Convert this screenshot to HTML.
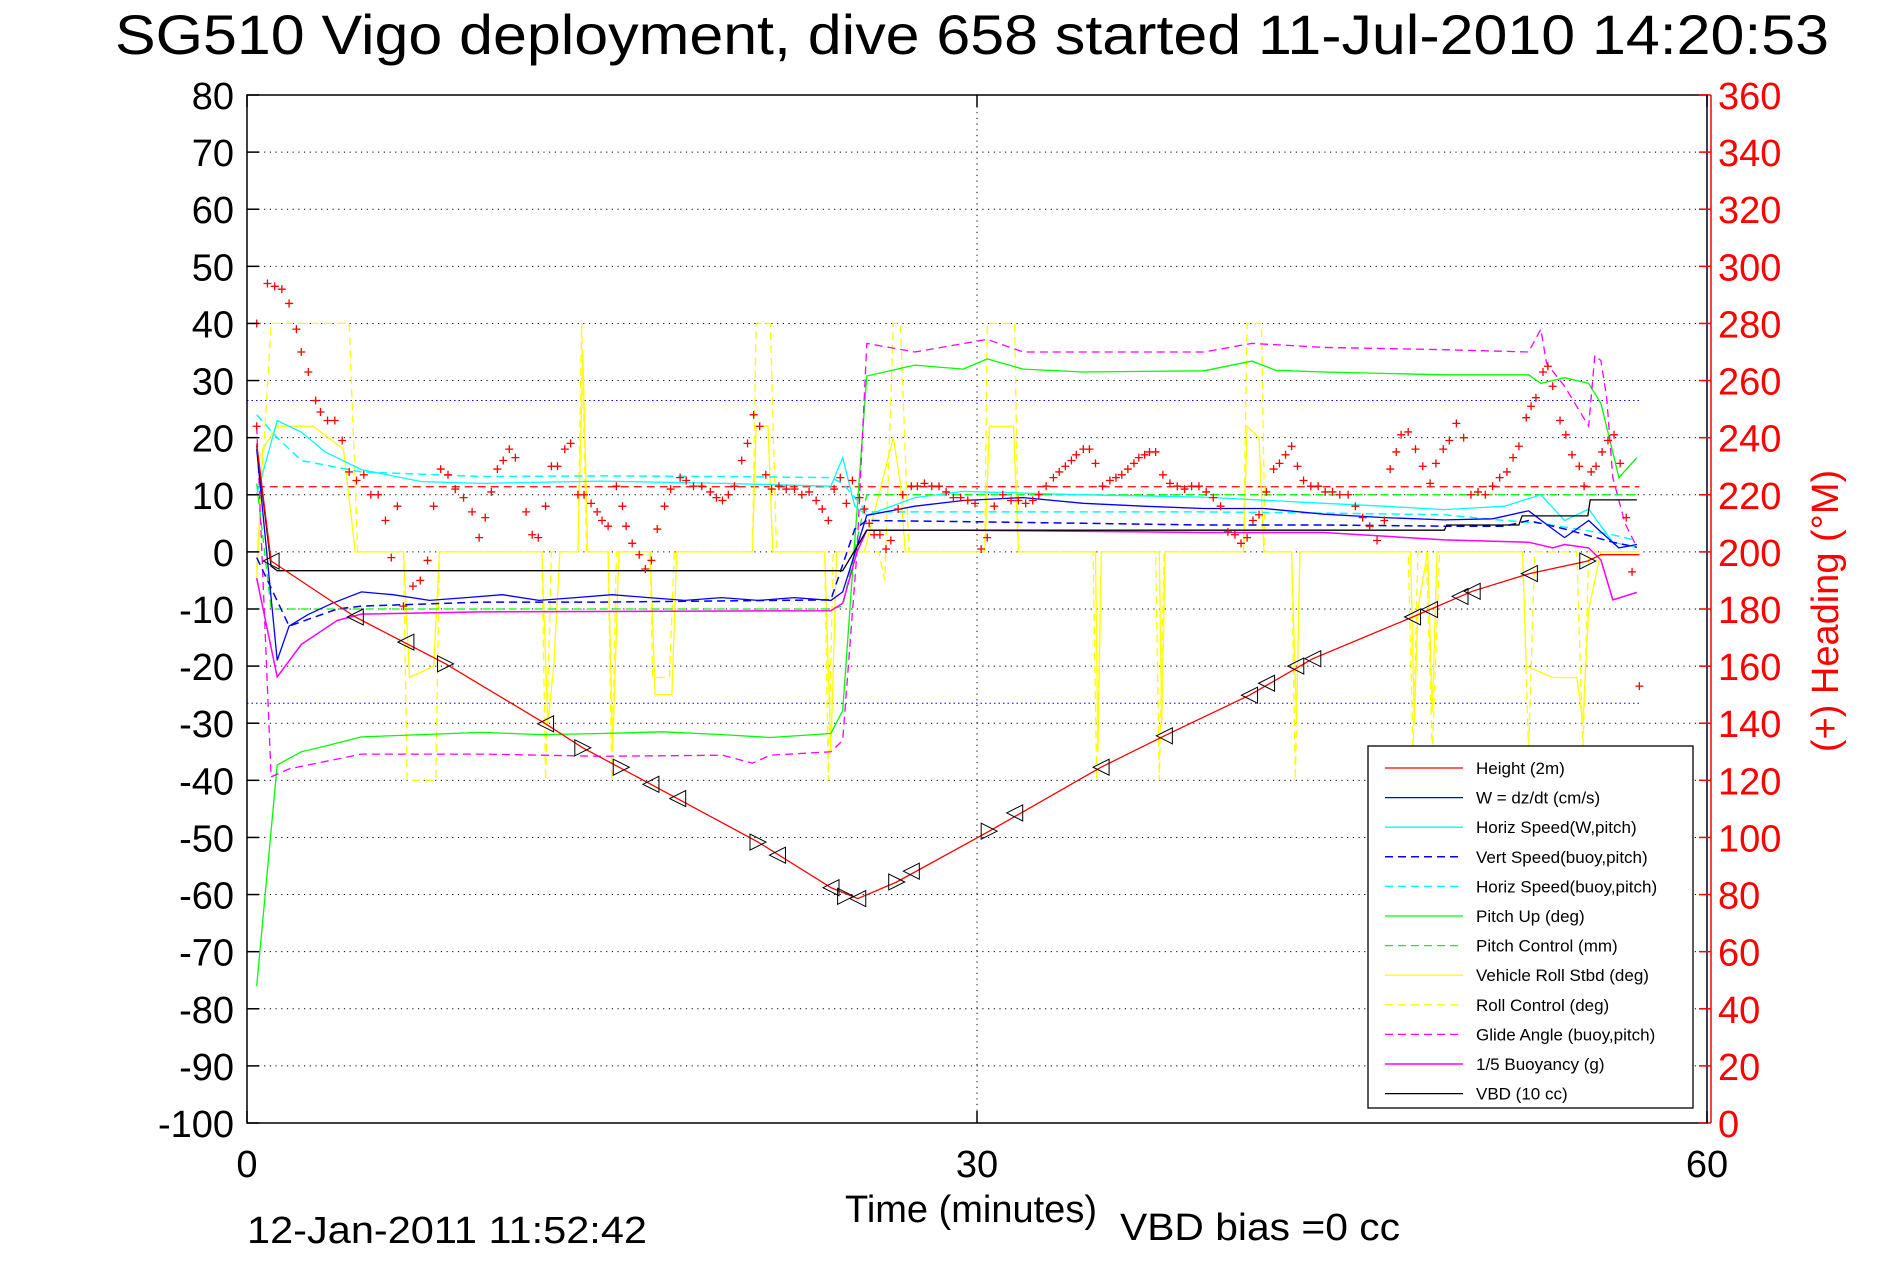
<!DOCTYPE html>
<html><head><meta charset="utf-8">
<style>
html,body{margin:0;padding:0;background:#fff;}
svg{display:block;font-family:"Liberation Sans",Arial,sans-serif;}
</style></head>
<body>
<svg id="chart" width="1891" height="1262" viewBox="0 0 1891 1262" xmlns="http://www.w3.org/2000/svg">
<rect x="0" y="0" width="1891" height="1262" fill="#fff"/>
<text x="972" y="54" font-size="56" text-anchor="middle" textLength="1714" lengthAdjust="spacingAndGlyphs">SG510 Vigo deployment, dive 658 started 11-Jul-2010 14:20:53</text>
<defs><clipPath id="plotclip"><rect x="247" y="95" width="1460" height="1028"/></clipPath></defs>
<g id="grid"></g>
<g id="series" clip-path="url(#plotclip)"></g>
<rect x="247" y="95" width="1460" height="1028" fill="none" stroke="#000" stroke-width="1.5"/>
<line x1="1711" y1="95" x2="1711" y2="1123" stroke="#f00" stroke-width="1.5"/>
<g id="axes"></g>
<text x="971" y="1222" font-size="38" text-anchor="middle">Time (minutes)</text>
<text x="1120" y="1240" font-size="38" textLength="280" lengthAdjust="spacingAndGlyphs">VBD bias =0 cc</text>
<text x="247" y="1243" font-size="38" textLength="400" lengthAdjust="spacingAndGlyphs">12-Jan-2011 11:52:42</text>
<text x="0" y="0" font-size="38" fill="#f00" text-anchor="middle" transform="translate(1838,611) rotate(-90)">(+) Heading (°M)</text>
<g id="legend"></g>
</svg>
<script>
// ---- data ----
const xTicks = [0, 30, 60];
const yTicks = [80,70,60,50,40,30,20,10,0,-10,-20,-30,-40,-50,-60,-70,-80,-90,-100];
const hTicks = [360,340,320,300,280,260,240,220,200,180,160,140,120,100,80,60,40,20,0];

const heightT = [0.4,0.99,4.45,8.16,12.27,13.8,16.6,21.0,24.0,25.1,26.7,30.5,35.1,37.7,41.2,43.8,47.9,50.35,52.7,55.1,55.64,57.22];
const heightV = [19,-1.6,-11.4,-19.6,-30.1,-34.3,-40.7,-50.8,-58.8,-60.7,-57.8,-48.9,-37.7,-32.2,-25.1,-18.7,-11.4,-6.9,-3.8,-1.6,-0.5,-0.5];

const wT = [0.4,1.24,1.73,2.5,3.5,4.7,6,7.5,9,10.5,12,13.5,15,16.5,18,19.5,21,22.5,24,24.48,25.47,27.45,29.43,31.9,34.37,36.84,39.32,41.79,44.26,46.74,49.21,51.19,52.67,53.66,54.15,55.14,55.64,56.38,57.12];
const wV = [18,-19,-13,-11,-9,-7,-7.5,-8.5,-8,-7.5,-8.5,-8,-7.5,-8,-8.5,-8,-8.5,-8,-8.5,-7,6.4,8,9,9.5,8.5,8,7.6,7.6,6.6,6,5.6,5.8,7.2,4,2.5,5.5,3.5,0.7,1.3];

const hsWT = [0.4,1.24,2.23,3.21,4.7,7.17,9.64,14.59,19.54,23.99,24.48,24.98,25.47,27.45,29.43,34.37,39.32,44.26,46.74,49.21,51.68,53.17,54.15,55.14,56.13,57.12];
const hsWV = [10,23,21,17.5,14.4,12.3,12,12.4,12,11.5,16.5,8,6.4,9.5,10.6,10,9.6,8.5,8,7.4,8,10,5.5,7.5,1.7,0.8];

const vsBT = [0.4,1.73,3.71,4.7,9.64,14.59,23.99,24.98,25.47,29.43,34.37,39.32,44.26,49.21,51.68,52.67,54.15,56.13,57.12];
const vsBV = [-1,-13,-10,-9.5,-8.8,-8.8,-8.4,4,5.5,5.3,5,4.7,4.7,4.5,4.5,5.5,4,1.7,0.8];

const hsBT = [0.4,1.24,2.23,4.7,9.64,14.59,19.54,23.99,24.48,25.47,29.43,34.37,39.32,44.26,49.21,51.68,53.17,54.65,56.13,57.12];
const hsBV = [24,20,16,14,13.2,13.3,13.2,13,12,7,7,7,7,6.8,6.5,5.5,5,4,3,2];

const pitchT = [0.4,1.24,2.23,3.21,4.7,7.17,9.64,12.12,14.59,17.07,19.54,21.5,23.99,24.48,24.98,25.47,27.45,29.43,30.42,31.9,34.37,39.32,41.3,42.28,44.26,49.21,52.67,53.17,54.15,55.14,55.64,56.38,57.12];
const pitchV = [-76,-37.3,-35,-34,-32.4,-32,-31.6,-32,-31.8,-31.5,-32,-32.5,-31.8,-27.8,2,30.8,32.7,32,33.8,32,31.5,31.7,33.4,31.8,31.5,31,31,29.5,30.5,29.5,26,13,16.5];

const pcT = [0.4,0.99,23.99,24.48,25.47,57.12];
const pcV = [12,-10,-10,-9.5,10,10];

const rollT = [0.4,0.64,1.24,2.72,3.96,4.45,6.43,6.68,7.67,7.91,12.12,12.36,12.61,12.86,13.6,13.8,14.0,14.84,15.03,15.28,16.57,16.77,17.46,17.66,20.77,20.92,21.41,21.61,23.74,23.99,24.23,25.37,26.56,26.85,27.05,30.32,30.51,31.5,31.7,34.87,34.97,35.11,37.49,37.59,37.73,40.95,41.1,41.59,41.79,42.93,43.13,43.27,47.82,47.97,48.12,48.52,48.71,48.91,52.42,52.57,53.66,54.65,54.9,55.14,55.64,57.22];
const rollV = [-5,18,22,22,18,0,0,-22,-20,0,0,-30,-20,0,0,35,0,0,-35,0,0,-25,-25,0,0,22,22,0,0,-35,0,0,20,12,0,0,22,22,0,0,-35,0,0,-30,0,0,22,20,0,0,-30,0,0,-30,-10,0,-28,0,0,-20,-22,-22,-30,-10,0,0];

const rcT = [0.4,0.99,4.2,4.55,6.43,6.58,7.76,7.91,12.12,12.27,12.51,13.6,13.75,13.95,14.84,14.99,15.18,16.57,16.67,17.36,17.56,20.77,20.92,21.51,21.76,23.74,23.89,24.09,25.96,26.21,26.56,26.85,27.2,30.32,30.42,31.55,31.7,34.77,34.92,35.11,37.34,37.49,37.69,40.95,41.1,41.69,41.84,42.93,43.08,43.27,47.72,47.92,48.12,48.47,48.71,49.01,52.42,52.67,52.92,54.65,54.9,55.14,57.22];
const rcV = [-3,40,40,0,0,-40,-40,0,0,-40,0,0,40,0,0,-40,0,0,-22,-22,0,0,40,40,0,0,-40,0,0,-5,40,40,0,0,40,40,0,0,-40,0,0,-40,0,0,40,40,0,0,-40,0,0,-35,0,0,-35,0,0,-35,0,0,-35,0,0];

const glideT = [0.4,0.99,1.73,4.7,9.64,14.59,19.54,20.77,21.51,23.99,24.48,25.07,25.47,27.45,30.42,31.9,34.37,39.32,41.3,44.26,49.21,52.67,53.17,53.41,54.15,55.14,55.39,55.64,55.88,56.13,56.63,57.12];
const glideV = [22,-39.4,-38,-35.4,-35.4,-35.8,-35.6,-37,-35.6,-35,-33,0,36.5,35,37.2,35,35,35,36.5,35.8,35.4,35,39,33,29,22,34.4,33.5,27,13,5,0.8];

const buoyT = [0.4,1.24,2.23,3.71,4.7,9.64,23.99,24.48,25.07,25.47,29.43,39.32,44.26,49.21,52.67,53.66,54.15,55.14,55.64,56.13,57.12];
const buoyV = [-4.6,-21.9,-16.2,-12,-10.9,-10.5,-10.3,-9,0,3.8,3.8,3.4,3.4,2.1,1.7,0.7,1.3,0.7,-1.4,-8.4,-7.1];

const vbdT = [0.4,0.99,1.24,24.48,25.47,49.21,49.3,52.27,52.4,55.1,55.2,57.12];
const vbdV = [18.6,-2.5,-3.3,-3.3,3.8,3.8,4.7,4.7,6.3,6.3,9.1,9.1];

const refLevels = [26.5, -26.5];
const headingMean = 222.8;

const markT = [0.99,4.45,6.53,8.16,12.27,13.8,15.38,16.6,17.7,21.0,21.8,24.0,24.6,25.1,26.7,27.3,30.5,31.55,35.1,37.7,41.2,41.9,43.1,43.8,47.9,48.6,49.85,50.35,52.7,55.1];
const markV = [-1.6,-11.4,-15.8,-19.6,-30.1,-34.3,-37.7,-40.7,-43.2,-50.8,-53.1,-58.8,-60.3,-60.7,-57.8,-55.9,-48.9,-45.7,-37.7,-32.2,-25.1,-23.0,-20.0,-18.7,-11.4,-10.1,-7.8,-6.9,-3.8,-1.6];
const markDir = ["L","L","L","R","L","R","R","L","L","R","L","L","R","L","R","L","R","L","L","L","L","L","L","L","L","L","L","L","L","R"];

const headingT = [0.40,0.40,0.84,1.14,1.43,1.73,2.03,2.23,2.52,2.82,3.02,3.31,3.61,3.91,4.20,4.50,4.80,5.09,5.39,5.69,5.93,6.18,6.43,6.82,7.12,7.42,7.67,7.96,8.26,8.56,8.90,9.25,9.54,9.79,10.04,10.29,10.53,10.78,11.03,11.47,11.72,11.97,12.27,12.51,12.76,13.06,13.30,13.60,13.85,14.14,14.39,14.59,14.84,15.18,15.43,15.58,15.83,16.12,16.37,16.62,16.86,17.16,17.41,17.80,18.05,18.35,18.69,19.04,19.29,19.54,19.78,20.03,20.33,20.57,20.82,21.07,21.32,21.56,21.86,22.16,22.50,22.80,23.10,23.39,23.64,23.89,24.13,24.38,24.63,24.88,25.17,25.37,25.57,25.77,26.01,26.26,26.46,26.76,26.95,27.30,27.55,27.84,28.14,28.44,28.73,29.03,29.33,29.62,29.92,30.17,30.42,30.71,31.06,31.40,31.70,32.00,32.29,32.54,32.84,33.14,33.38,33.63,33.88,34.08,34.37,34.62,34.87,35.16,35.46,35.71,35.95,36.20,36.45,36.65,36.89,37.09,37.34,37.64,37.93,38.23,38.53,38.82,39.12,39.42,39.71,40.01,40.31,40.60,40.85,41.10,41.34,41.59,41.89,42.19,42.43,42.68,42.93,43.17,43.42,43.72,44.02,44.31,44.61,44.91,45.25,45.55,45.85,46.14,46.44,46.74,46.98,47.23,47.43,47.72,48.02,48.32,48.62,48.86,49.16,49.41,49.70,50.00,50.30,50.59,50.89,51.19,51.48,51.78,52.03,52.27,52.57,52.77,52.97,53.26,53.46,53.66,53.96,54.20,54.45,54.75,54.95,55.24,55.44,55.69,55.93,56.18,56.43,56.68,56.92,57.22];
const headingH = [280,244,294,293,292,287,278,270,263,253,249,246,246,239,228,225,227,220,220,211,198,216,181,188,190,197,216,229,227,222,219,214,205,212,221,229,232,236,233,214,206,205,216,230,230,236,238,220,220,217,214,211,209,223,216,209,203,199,194,197,208,216,222,226,225,223,223,221,219,218,220,223,232,238,248,244,227,222,223,222,222,220,221,218,215,211,222,226,217,225,219,215,210,206,206,201,204,215,220,223,223,224,223,223,221,219,219,218,217,201,205,216,220,218,218,217,218,220,223,226,228,230,232,234,236,236,231,223,225,226,227,229,231,233,234,235,235,227,224,223,222,223,223,221,219,216,207,206,203,205,211,213,221,229,231,234,237,230,225,223,223,221,221,220,220,216,212,209,204,211,229,235,241,242,236,230,224,231,236,239,245,240,220,221,220,223,226,228,233,237,247,251,254,263,265,258,246,241,234,230,223,228,230,235,239,241,231,212,193,153];

// ---- scales ----
const PL = 247, PR = 1707, PT = 95, PB = 1123;
function X(t){ return PL + (t - 0) / 60 * (PR - PL); }
function Y(v){ return PT + (80 - v) / 180 * (PB - PT); }
function YH(h){ return PT + (360 - h) / 360 * (PB - PT); }

const NS = "http://www.w3.org/2000/svg";
function mk(tag, attrs, parent){
  const el = document.createElementNS(NS, tag);
  for (const k in attrs) el.setAttribute(k, attrs[k]);
  parent.appendChild(el);
  return el;
}
const grid = document.getElementById('grid');
const axes = document.getElementById('axes');
const series = document.getElementById('series');
const legend = document.getElementById('legend');

// grid & ticks
yTicks.forEach(v => {
  const y = Y(v);
  if (v !== 80 && v !== -100) {
    const g = mk('line', {x1:PL, x2:PR, y1:y, y2:y, stroke:'#000', 'stroke-width':1, 'stroke-dasharray':'1.2,4.5'}, grid);
    
    
  }
  const tk = mk('line', {x1:PL, x2:PL+12, y1:y, y2:y, stroke:'#000', 'stroke-width':1.5}, axes);
  
  
  const lb = mk('text', {x:234, y:y+14, 'font-size':38, 'text-anchor':'end'}, axes);
  lb.textContent = v;
  
  
});
hTicks.forEach(h => {
  const y = YH(h);
  const tk = mk('line', {x1:1699, x2:1711, y1:y, y2:y, stroke:'#f00', 'stroke-width':1.5}, axes);
  
  
  const lb = mk('text', {x:1718, y:y+14, 'font-size':38, fill:'#f00'}, axes);
  lb.textContent = h;
  
  
});
xTicks.forEach(t => {
  const x = X(t);
  if (t !== 0 && t !== 60) {
    const g = mk('line', {x1:x, x2:x, y1:PT, y2:PB, stroke:'#000', 'stroke-width':1, 'stroke-dasharray':'1.2,4.5'}, grid);
    
    
  }
  const tk1 = mk('line', {x1:x, x2:x, y1:PB, y2:PB-12, stroke:'#000', 'stroke-width':1.5}, axes);
  
  
  const tk2 = mk('line', {x1:x, x2:x, y1:PT, y2:PT+12, stroke:'#000', 'stroke-width':1.5}, axes);
  
  
  const lb = mk('text', {x:x, y:1177, 'font-size':38, 'text-anchor':'middle'}, axes);
  lb.textContent = t;
  
  
});

// reference lines
refLevels.forEach(v => {
  const l = mk('line', {x1:X(0), x2:X(57.22), y1:Y(v), y2:Y(v), stroke:'#00f', 'stroke-width':1, 'stroke-dasharray':'1.5,3'}, series);
  
  
});
const hm = mk('line', {x1:X(0.4), x2:X(57.22), y1:YH(headingMean), y2:YH(headingMean), stroke:'#f00', 'stroke-width':1.2, 'stroke-dasharray':'8,5'}, series);



function pathOf(ts, vs){
  return ts.map((t,i) => (i ? 'L' : 'M') + X(t).toFixed(1) + ',' + Y(vs[i]).toFixed(1)).join(' ');
}
const defs = [
  {name:'roll-control-line', t:rcT, v:rcV, c:'#ffff00', d:'8,5', w:1.3, label:'Roll Control (deg)'},
  {name:'vehicle-roll-line', t:rollT, v:rollV, c:'#ffff00', d:'', w:1.3, label:'Vehicle Roll Stbd (deg)'},
  {name:'pitch-control-line', t:pcT, v:pcV, c:'#00ff00', d:'8,5', w:1.3, label:'Pitch Control (mm)'},
  {name:'pitch-up-line', t:pitchT, v:pitchV, c:'#00ff00', d:'', w:1.3, label:'Pitch Up (deg)'},
  {name:'glide-angle-line', t:glideT, v:glideV, c:'#ff00ff', d:'8,5', w:1.3, label:'Glide Angle (buoy,pitch)'},
  {name:'buoyancy-line', t:buoyT, v:buoyV, c:'#ff00ff', d:'', w:1.5, label:'1/5 Buoyancy (g)'},
  {name:'horiz-speed-buoy-line', t:hsBT, v:hsBV, c:'#00ffff', d:'8,5', w:1.5, label:'Horiz Speed(buoy,pitch)'},
  {name:'horiz-speed-w-line', t:hsWT, v:hsWV, c:'#00ffff', d:'', w:1.3, label:'Horiz Speed(W,pitch)'},
  {name:'vert-speed-buoy-line', t:vsBT, v:vsBV, c:'#0000ff', d:'8,5', w:1.5, label:'Vert Speed(buoy,pitch)'},
  {name:'w-line', t:wT, v:wV, c:'#0000ff', d:'', w:1.3, label:'W = dz/dt (cm/s)'},
  {name:'vbd-line', t:vbdT, v:vbdV, c:'#000000', d:'', w:1.3, label:'VBD (10 cc)'},
  {name:'height-line', t:heightT, v:heightV, c:'#ff0000', d:'', w:1.3, label:'Height (2m)'}
];
defs.forEach(s => {
  const p = mk('path', {d:pathOf(s.t, s.v), fill:'none', stroke:s.c, 'stroke-width':s.w}, series);
  if (s.d) p.setAttribute('stroke-dasharray', s.d);
  
  
});

// depth markers
markT.forEach((t,i) => {
  const x = X(t), y = Y(markV[i]);
  const s = 8;
  const pts = markDir[i] === 'L'
    ? [[x-s,y],[x+s,y-s],[x+s,y+s]]
    : [[x+s,y],[x-s,y-s],[x-s,y+s]];
  const m = mk('polygon', {points:pts.map(p=>p.join(',')).join(' '), fill:'none', stroke:'#000', 'stroke-width':1}, series);
  
  
});

// heading markers
headingT.forEach((t,i) => {
  const x = X(t), y = YH(headingH[i]);
  const m = mk('path', {d:`M${x-4},${y} H${x+4} M${x},${y-4} V${y+4}`, stroke:'#f00', 'stroke-width':1.3, fill:'none'}, series);
  
  
});

// legend
const lb = mk('rect', {x:1368, y:746, width:325, height:362, fill:'#fff', stroke:'#000', 'stroke-width':1.3}, legend);


const order = ['height-line','w-line','horiz-speed-w-line','vert-speed-buoy-line','horiz-speed-buoy-line','pitch-up-line','pitch-control-line','vehicle-roll-line','roll-control-line','glide-angle-line','buoyancy-line','vbd-line'];
order.forEach((n,i) => {
  const s = defs.find(d => d.name === n);
  const y = 768 + i * 29.6;
  const l = mk('line', {x1:1385, x2:1463, y1:y, y2:y, stroke:s.c, 'stroke-width':s.w}, legend);
  if (s.d) l.setAttribute('stroke-dasharray', s.d);
  
  
  const tx = mk('text', {x:1476, y:y+6, 'font-size':17}, legend);
  tx.textContent = s.label;
  
  
});
</script>
</body></html>
